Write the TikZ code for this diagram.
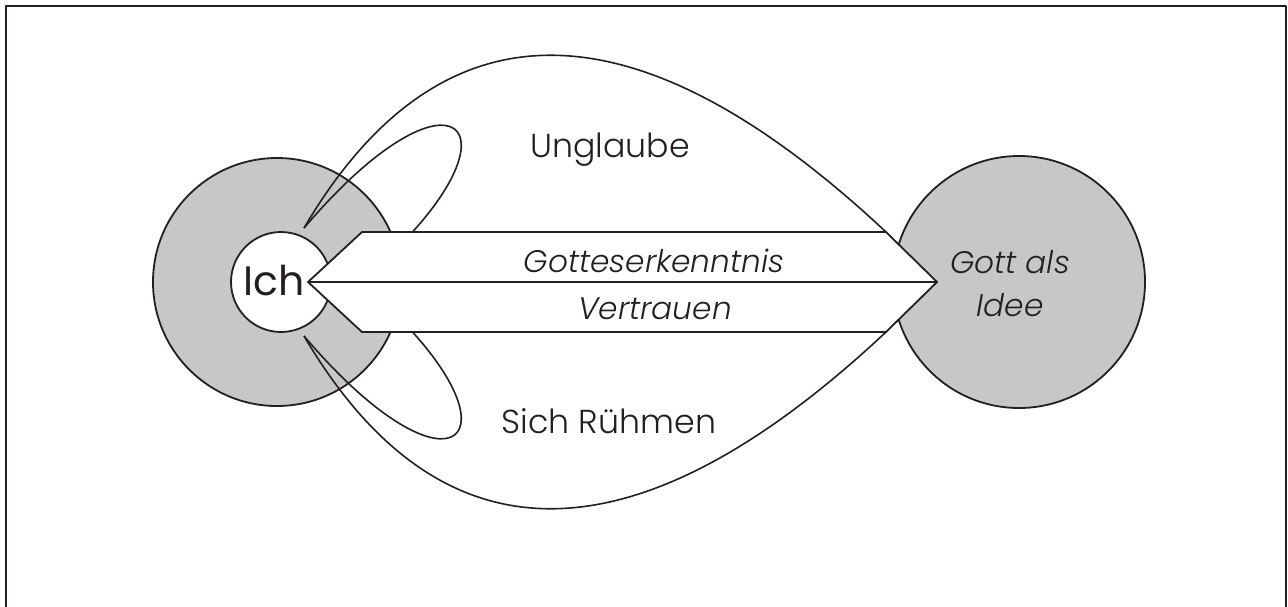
\documentclass[tikz,border=0pt]{standalone}
\usepackage{fontspec}
\setmainfont{Poppins}[UprightFont=* Light,ItalicFont=* Light Italic]
\newfontfamily\ichfont{Poppins}
\definecolor{ink}{RGB}{35,31,32}
\definecolor{disc}{RGB}{199,199,199}
\begin{document}
\begin{tikzpicture}[x=0.5pt,y=-0.5pt,line join=round,
  rim/.style={draw=ink,line width=0.9pt},
  loopline/.style={draw=ink,line width=0.8pt},
  lbl/.style={font=\fontsize{16.6}{20}\selectfont,text=ink,inner sep=0pt},
  ilbl/.style={font=\fontsize{15.6}{20}\selectfont\itshape,text=ink,inner sep=0pt},
  disk/.style={circle,draw=ink,line width=0.9pt,inner sep=0pt}]
\useasboundingbox (0,0) rectangle (1288,606);
% frame
\draw[ink,line width=1pt] (6,640) -- (6,6) -- (1286,6) -- (1286,640);
% circles
\node[disk,fill=disc,minimum size=124pt] (ichring) at (277,282) {};
\node[disk,fill=disc,minimum size=126pt] (gott) at (1019,282) {};
\node[disk,fill=white,minimum size=50pt] (ich) at (281,282) {};
% arrow corners and curve ends
\coordinate (aL) at (308,282);
\coordinate (aTL) at (362,232);
\coordinate (aTR) at (886,232);
\coordinate (aR) at (937,282);
\coordinate (aBR) at (886,332);
\coordinate (aBL) at (362,332);
\coordinate (cu) at (304,228);
\coordinate (cd) at (304,336);
\coordinate (lu) at (405,240);
\coordinate (ld) at (405,324);
% loops and arcs
\draw[loopline] (cu) .. controls (445,62) and (520,120) .. (lu);
\draw[loopline] (cd) .. controls (445,502) and (520,444) .. (ld);
\draw[loopline] (cu) .. controls (440,-3) and (635,-3) .. (aTR);
\draw[loopline] (cd) .. controls (440,567) and (635,567) .. (aBR);
% double arrow band
\draw[rim,fill=white] (aL) -- (aTL) -- (aTR) -- (aR) -- (aBR) -- (aBL) -- cycle;
\draw[rim] (aL) -- (aR);
% labels
\node[lbl,anchor=base,font=\ichfont\fontsize{20.5}{24}\selectfont] (ichtext) at (274,295) {Ich};
\node[lbl,anchor=base] (unglaube) at (610,157) {Unglaube};
\node[lbl,anchor=base] (ruhm) at (609,433) {Sich Rühmen};
\node[ilbl,anchor=base] (erk) at (654,272) {Gotteserkenntnis};
\node[ilbl,anchor=base] (vertr) at (655,319) {Vertrauen};
\node[ilbl,anchor=base] (gott1) at (1010,273) {Gott als};
\node[ilbl,anchor=base] (gott2) at (1010,316) {Idee};
\end{tikzpicture}
\end{document}
